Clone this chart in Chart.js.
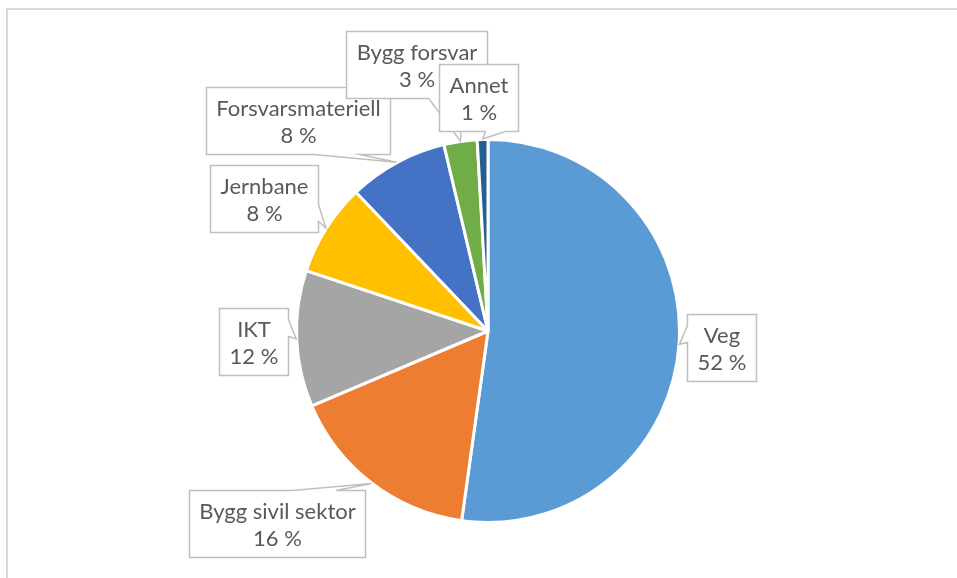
<!DOCTYPE html>
<html>
<head>
<meta charset="utf-8">
<script src="https://cdn.jsdelivr.net/npm/chart.js@4"></script>
<style>
html, body { margin: 0; padding: 0; background: #fff; }
#wrap { position: relative; width: 957px; height: 578px; overflow: hidden; }
#frame { position: absolute; left: 6px; top: 8px; width: 1000px; height: 1000px;
  border-left: 2px solid #d9d9d9; border-top: 2px solid #d9d9d9; }
canvas { position: absolute; left: 0; top: 0; }
</style>
</head>
<body>
<div id="wrap">
  <div id="frame"></div>
  <canvas id="chart-kategori" width="957" height="578"></canvas>
</div>
<script>
// data
var kategori = ["Veg", "Bygg sivil sektor", "IKT", "Jernbane", "Forsvarsmateriell", "Bygg forsvar", "Annet"];
var andel = [52.2, 16.4, 11.5, 7.8, 8.4, 2.8, 0.9];
var farger = ["#5b9bd5", "#ed7d31", "#a5a5a5", "#ffc000", "#4472c4", "#70ad47", "#255e91"];

// plassering av etikettboks: [avstand fra sentrum, vinkeljustering i grader]
var calloutLayout = [
  [234, 0.1],
  [286, 10.2],
  [235, -0.1],
  [260, -1.8],
  [284, -13.6],
  [276, -6.8],
  [234, -0.8]
];

var FONT = '22px Lato, "Open Sans", sans-serif';
var PAD = 10;
var BOX_H = 67;

function prosent(i) {
  var sum = andel.reduce(function (a, b) { return a + b; }, 0);
  return Math.round(andel[i] / sum * 100) + " %";
}

// rektangel med kile, omtrent som Excel sin wedgeRectCallout
function calloutPath(ctx, x0, y0, x1, y1, side, b1, b2, tx, ty) {
  ctx.beginPath();
  ctx.moveTo(x0, y0);
  if (side === 'top') { ctx.lineTo(b1, y0); ctx.lineTo(tx, ty); ctx.lineTo(b2, y0); }
  ctx.lineTo(x1, y0);
  if (side === 'right') { ctx.lineTo(x1, b1); ctx.lineTo(tx, ty); ctx.lineTo(x1, b2); }
  ctx.lineTo(x1, y1);
  if (side === 'bottom') { ctx.lineTo(b2, y1); ctx.lineTo(tx, ty); ctx.lineTo(b1, y1); }
  ctx.lineTo(x0, y1);
  if (side === 'left') { ctx.lineTo(x0, b2); ctx.lineTo(tx, ty); ctx.lineTo(x0, b1); }
  ctx.closePath();
}

const calloutPlugin = {
  id: 'callouts',
  afterDatasetsDraw(chart) {
    const ctx = chart.ctx;
    const meta = chart.getDatasetMeta(0);
    ctx.save();
    ctx.font = FONT;
    meta.data.forEach((arc, i) => {
      const p = arc.getProps(['x', 'y', 'startAngle', 'endAngle', 'outerRadius'], true);
      const mid = (p.startAngle + p.endAngle) / 2;
      const lay = calloutLayout[i];
      const a = mid + lay[1] * Math.PI / 180;
      const cx = p.x + lay[0] * Math.cos(a);
      const cy = p.y + lay[0] * Math.sin(a);
      const tx = p.x + (p.outerRadius + 0.5) * Math.cos(mid);
      const ty = p.y + (p.outerRadius + 0.5) * Math.sin(mid);

      const l1 = kategori[i], l2 = prosent(i);
      const w = Math.round(Math.max(ctx.measureText(l1).width, ctx.measureText(l2).width) + 2 * PAD);
      const x0 = Math.round(cx - w / 2) + 0.5, y0 = Math.round(cy - BOX_H / 2) + 0.5;
      const x1 = x0 + w, y1 = y0 + BOX_H;

      const dx = tx - cx, dy = ty - cy;
      let side, b1, b2;
      if (Math.abs(dx) / w > Math.abs(dy) / BOX_H) {
        side = dx < 0 ? 'left' : 'right';
        b1 = y0 + BOX_H * (dy < 0 ? 2 : 7) / 12;
        b2 = y0 + BOX_H * (dy < 0 ? 5 : 10) / 12;
      } else {
        side = dy < 0 ? 'top' : 'bottom';
        b1 = x0 + w * (dx < 0 ? 2 : 7) / 12;
        b2 = x0 + w * (dx < 0 ? 5 : 10) / 12;
      }
      calloutPath(ctx, x0, y0, x1, y1, side, b1, b2, tx, ty);
      ctx.fillStyle = '#ffffff';
      ctx.fill();
      ctx.strokeStyle = '#bfbfbf';
      ctx.lineWidth = 1.5;
      ctx.stroke();

      ctx.fillStyle = '#595959';
      ctx.textAlign = 'center';
      ctx.textBaseline = 'alphabetic';
      ctx.fillText(l1, (x0 + x1) / 2, y0 + BOX_H / 2 - 5);
      ctx.fillText(l2, (x0 + x1) / 2, y0 + BOX_H / 2 + 22);
    });
    ctx.restore();
  }
};

var chart = new Chart(document.getElementById("chart-kategori").getContext("2d"), {
  type: "pie",
  data: {
    labels: kategori,
    datasets: [{
      data: andel,
      backgroundColor: farger,
      borderColor: "#ffffff",
      borderWidth: 3
    }]
  },
  options: {
    responsive: false,
    animation: false,
    radius: 191.5,
    layout: {
      padding: { left: 297, right: 278, top: 140, bottom: 56 }
    },
    plugins: {
      legend: { display: false },
      tooltip: { enabled: false }
    }
  },
  plugins: [calloutPlugin]
});
</script>
</body>
</html>
